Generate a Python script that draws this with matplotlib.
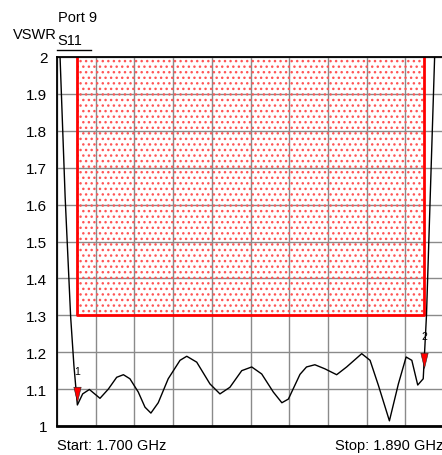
import numpy as np
import matplotlib
matplotlib.use("Agg")
from matplotlib import pyplot as plt
from matplotlib.patches import Rectangle

plt.rcParams['font.family'] = ['Liberation Sans', 'DejaVu Sans']
plt.rcParams['hatch.linewidth'] = 1.0

# S11 trace (GHz, VSWR)
freq = [1.7000, 1.7015, 1.7040, 1.7067, 1.7083, 1.7100, 1.7126, 1.7159,
        1.7211, 1.7252, 1.7293, 1.7326, 1.7358, 1.7399, 1.7432, 1.7461,
        1.7497, 1.7546, 1.7604, 1.7637, 1.7686, 1.7751, 1.7800, 1.7849,
        1.7907, 1.7956, 1.8005, 1.8062, 1.8104, 1.8136, 1.8193, 1.8225,
        1.8266, 1.8315, 1.8373, 1.8422, 1.8496, 1.8537, 1.8578, 1.8632,
        1.8676, 1.8714, 1.8742, 1.8771, 1.8798, 1.8814, 1.8854, 1.8870]
vswr = [2.30, 2.00, 1.62, 1.296, 1.164, 1.057, 1.087, 1.099,
        1.075, 1.100, 1.132, 1.139, 1.128, 1.092, 1.051, 1.035,
        1.063, 1.128, 1.178, 1.189, 1.173, 1.114, 1.087, 1.105,
        1.150, 1.160, 1.141, 1.092, 1.063, 1.073, 1.140, 1.160,
        1.166, 1.155, 1.139, 1.160, 1.196, 1.178, 1.110, 1.014,
        1.114, 1.187, 1.178, 1.111, 1.128, 1.300, 2.000, 2.40]

# limit mask
mask_lo, mask_hi, mask_limit = 1.710, 1.8803, 1.3

# markers
mk_freq = [1.7100, 1.8803]
mk_vswr = [1.064, 1.158]
mk_name = ['1', '2']

f_start, f_stop = 1.700, 1.890
yticks = [1, 1.1, 1.2, 1.3, 1.4, 1.5, 1.6, 1.7, 1.8, 1.9, 2]
ylabels = ['1', '1.1', '1.2', '1.3', '1.4', '1.5', '1.6', '1.7', '1.8', '1.9', '2']

fig = plt.figure(figsize=(4.42, 4.56), dpi=100)
ax = fig.add_axes([57 / 442, 29 / 456, 387 / 442, 369 / 456])

ax.set_xlim(f_start, f_stop)
ax.set_ylim(1, 2)
ax.set_xticks(np.linspace(f_start, f_stop, 11))
ax.set_xticklabels([])
ax.set_yticks(yticks)
ax.set_yticklabels(ylabels, fontsize=11)
ax.tick_params(length=0, pad=7)
ax.grid(True, color='#8a8a8a', lw=1)
ax.set_axisbelow(True)
for s in ['left', 'top']:
    ax.spines[s].set_linewidth(1.3)
ax.spines['bottom'].set_linewidth(2)

# hatched fail region
ax.add_patch(Rectangle((mask_lo, mask_limit), mask_hi - mask_lo, 2 - mask_limit,
                       facecolor='none', edgecolor='#ff5555', lw=0, hatch='...',
                       zorder=1.5))
ax.plot([mask_lo, mask_lo, mask_hi, mask_hi], [2, mask_limit, mask_limit, 2],
        color='red', lw=2, zorder=2)

ax.plot(freq, vswr, color='black', lw=1, zorder=3)

tri = [(-0.24, 1), (0, 0), (0.24, 1), (-0.24, 1)]
for f, v, n in zip(mk_freq, mk_vswr, mk_name):
    ax.plot([f], [v], marker=tri, ms=22, mfc='red', mec='#222222', mew=0.4,
            ls='none', zorder=4)
    ax.text(f, v + 0.085, n, fontsize=7.5, ha='center', va='center', zorder=4)

fig.text(13 / 442, 1 - 35 / 456, 'VSWR', fontsize=10.5, va='center', ha='left')
fig.text(58 / 442, 1 - 17.5 / 456, 'Port 9', fontsize=10.5, va='center', ha='left')
fig.text(57 / 442, 1 - 41 / 456, 'S11', fontsize=10.5, va='center', ha='left')
fig.add_artist(plt.Line2D([57 / 442, 91 / 442], [1 - 51 / 456, 1 - 51 / 456],
                          color='black', lw=1))
fig.text(57 / 442, 1 - 446 / 456, 'Start: 1.700 GHz', fontsize=10.5, va='center', ha='left')
fig.text(335 / 442, 1 - 446 / 456, 'Stop: 1.890 GHz', fontsize=10.5, va='center', ha='left')

fig.savefig('out.png', dpi=100)
